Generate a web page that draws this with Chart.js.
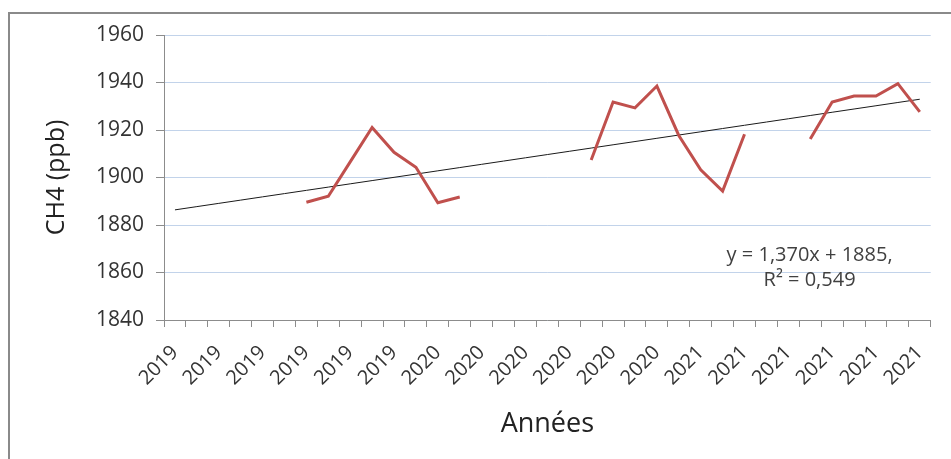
<!DOCTYPE html>
<html>
<head>
<meta charset="utf-8">
<script src="https://cdn.jsdelivr.net/npm/chart.js@4"></script>
<style>
  html, body { margin: 0; padding: 0; background: #fff; overflow: hidden; }
  #frame { position: absolute; left: 8px; top: 12px; width: 1000px; height: 500px; border: 2px solid #8a8a8a; box-sizing: border-box; }
  #wrap { position: absolute; left: 0; top: 0; width: 951px; height: 459px; }
</style>
</head>
<body>
<div id="frame"></div>
<div id="wrap"><canvas id="chart" width="951" height="459"></canvas></div>
<script>
// années par catégorie (une étiquette sur deux est affichée)
const categoryYears = [
  "2019", "2019", "2019", "2019", "2019", "2019", "2019", "2019", "2019", "2019", "2019", "2019",
  "2020", "2020", "2020", "2020", "2020", "2020", "2020", "2020", "2020", "2020", "2020", "2020",
  "2021", "2021", "2021", "2021", "2021", "2021", "2021", "2021", "2021", "2021", "2021",
];

// CH4 mesuré (ppb), null = pas de mesure
const ch4Values = [
  null, null, null, null, null, null,
  1889.6, 1892.1, 1906.6, 1921.1, 1910.6, 1904.3, 1889.4, 1891.8,
  null, null, null, null, null,
  1907.4, 1931.8, 1929.3, 1938.5, 1917.7, 1903.2, 1894.3, 1918.2,
  null, null,
  1916.2, 1931.8, 1934.3, 1934.3, 1939.5, 1927.6,
];

// courbe de tendance linéaire affichée sur le graphique
const trendSlope = 1.370;
const trendIntercept = 1885;
const trendText = ["y = 1,370x + 1885,", "R² = 0,549"];

const yTicks = { min: 1840, max: 1960, step: 20 };

const trendValues = categoryYears.map((_, i) => trendSlope * (i + 1) + trendIntercept);

const FONT = "'Open Sans', 'DejaVu Sans', sans-serif";
const GRID_BLUE = "#c2d3ea";
const AXIS_GREY = "#8c8c8c";

// texte de l'équation, placé sous la courbe de tendance
const trendLabel = {
  id: "trendLabel",
  afterDatasetsDraw(chart) {
    const { ctx, chartArea, scales } = chart;
    const cx = chartArea.left + chartArea.width * 0.842;
    ctx.save();
    ctx.fillStyle = "#404040";
    ctx.font = "20px " + FONT;
    ctx.textAlign = "center";
    ctx.textBaseline = "middle";
    ctx.fillText(trendText[0], cx, scales.y.getPixelForValue(1867.4));
    ctx.fillText(trendText[1], cx, scales.y.getPixelForValue(1856.8));
    ctx.restore();
  },
};

new Chart(document.getElementById("chart"), {
  type: "line",
  data: {
    labels: categoryYears,
    datasets: [
      {
        label: "CH4",
        data: ch4Values,
        borderColor: "#c0504d",
        borderWidth: 3,
        pointRadius: 0,
        spanGaps: false,
        tension: 0,
      },
      {
        label: "Tendance",
        data: trendValues,
        borderColor: "#1a1a1a",
        borderWidth: 1,
        pointRadius: 0,
        tension: 0,
      },
    ],
  },
  options: {
    responsive: false,
    animation: false,
    layout: { padding: { top: 35, right: 18, left: 0, bottom: 0 } },
    plugins: {
      legend: { display: false },
      tooltip: { enabled: false },
    },
    scales: {
      x: {
        offset: true,
        grid: {
          offset: true,
          drawOnChartArea: false,
          tickColor: AXIS_GREY,
          tickLength: 7,
        },
        border: { color: AXIS_GREY, width: 1 },
        ticks: {
          autoSkip: false,
          maxRotation: 45,
          minRotation: 45,
          padding: 14,
          color: "#333",
          font: { family: FONT, size: 20 },
          callback: (value, i) => (i % 2 === 0 ? categoryYears[i] : ""),
        },
        title: {
          display: true,
          text: "Années",
          color: "#222",
          font: { family: FONT, size: 27 },
          padding: { top: 0, bottom: 18 },
        },
        afterFit: (scale) => { scale.height = 139; },
      },
      y: {
        min: yTicks.min,
        max: yTicks.max,
        grid: {
          color: GRID_BLUE,
          tickColor: AXIS_GREY,
          tickLength: 8,
        },
        border: { color: AXIS_GREY, width: 1 },
        ticks: {
          stepSize: yTicks.step,
          padding: 12,
          color: "#333",
          font: { family: FONT, size: 21 },
          callback: (value) => String(value),
        },
        title: {
          display: true,
          text: "CH4 (ppb)",
          color: "#222",
          font: { family: FONT, size: 25 },
          padding: { top: 42, bottom: 0 },
        },
        afterFit: (scale) => { scale.width = 164; },
      },
    },
  },
  plugins: [trendLabel],
});
</script>
</body>
</html>
